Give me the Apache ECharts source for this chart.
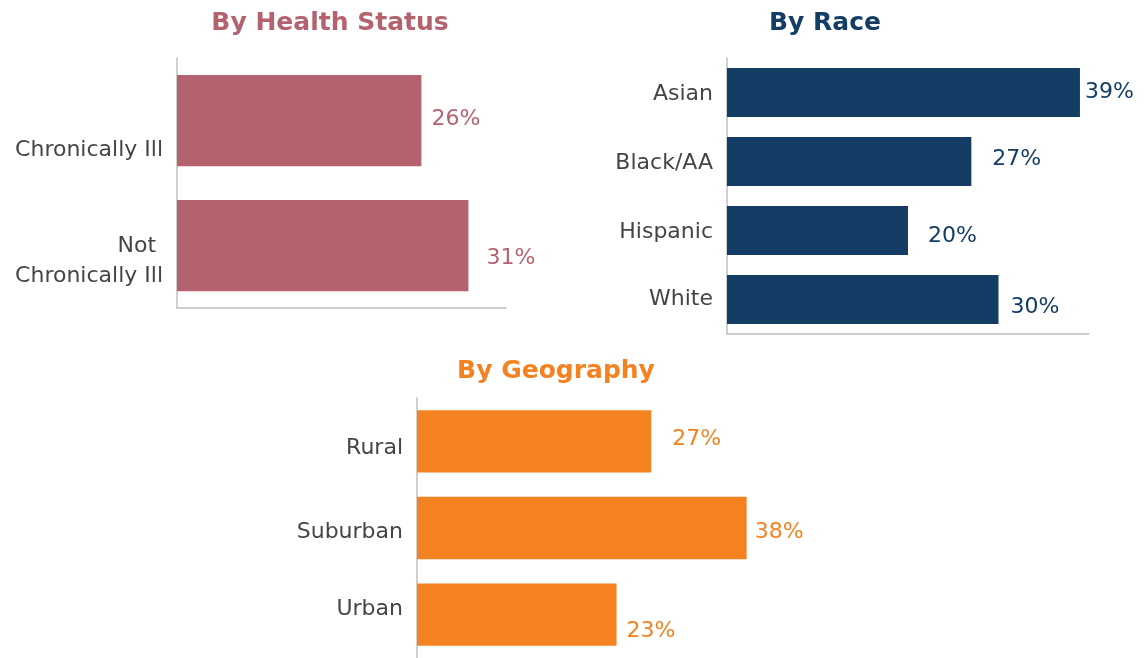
<!DOCTYPE html>
<html>
<head>
<meta charset="utf-8">
<title>By Health Status / Race / Geography</title>
<script src="https://cdn.jsdelivr.net/npm/echarts@6/dist/echarts.min.js"></script>
<style>
  html, body { margin: 0; padding: 0; background: #fff; }
  #chart { width: 1147px; height: 658px; }
</style>
</head>
<body>
<div id="chart"></div>
<script>
// 数据
const healthCats = ['Chronically Ill', 'Not \nChronically Ill'];
const healthVals = [26, 31];
const raceCats = ['Asian', 'Black/AA', 'Hispanic', 'White'];
const raceVals = [39, 27, 20, 30];
const geoCats = ['Rural', 'Suburban', 'Urban'];
const geoVals = [27, 38, 23];

// 数据标签偏移（模仿原图手动摆放的标签）
const healthOffsets = [[5, -1], [13, 13]];
const raceOffsets = [[0, 0], [16, -2], [15, 6], [7, 8]];
const geoOffsets = [[16, -2], [3, 4], [5, 17]];
// 类目标签上下挪动（正数向下，px）
const healthCatShift = [30, 16];
const raceCatShift = [2, 2, 2, 0];
const geoCatShift = [7, 4, -5];

const FONT = '"DejaVu Sans", sans-serif';
const catColor = '#454545';
const lineColor = '#bfbfbf';

const panels = [
  { title: 'By Health Status', color: '#b5626f', cats: healthCats, vals: healthVals, offsets: healthOffsets, shift: healthCatShift,
    grid: { left: 177, width: 329, top: 58, height: 250 }, max: 35, baseline: true, titleX: 325, titleY: 6, gap: '27%' },
  { title: 'By Race', color: '#143d66', cats: raceCats, vals: raceVals, offsets: raceOffsets, shift: raceCatShift,
    grid: { left: 727, width: 362, top: 58, height: 276 }, max: 40, baseline: true, titleX: 820, titleY: 6, gap: '29%' },
  { title: 'By Geography', color: '#f58220', cats: geoCats, vals: geoVals, offsets: geoOffsets, shift: geoCatShift,
    grid: { left: 417, width: 347, top: 398, height: 264 }, max: 40, baseline: false, titleX: 551, titleY: 354, gap: '28%' }
];

// 用一行空白的 rich 文本把标签往上/下推
function shiftLabel(text, d) {
  if (!d) return text;
  const spacer = '{s' + Math.abs(d * 2) + '|\u00a0}';
  return d > 0 ? spacer + '\n' + text : text + '\n' + spacer;
}
const richSpacers = {};
panels.forEach(p => p.shift.forEach(d => {
  const h = Math.abs(d * 2);
  if (h) richSpacers['s' + h] = { lineHeight: h, fontSize: 1, height: h };
}));

const chart = echarts.init(document.getElementById('chart'));

const option = {
  backgroundColor: '#fff',
  animation: false,
  title: panels.map(p => ({
    text: p.title,
    left: p.titleX,
    top: p.titleY,
    textAlign: 'center',
    textStyle: { color: p.color, fontFamily: FONT, fontSize: 25, fontWeight: 'bold' }
  })),
  grid: panels.map(p => Object.assign({ containLabel: false }, p.grid)),
  xAxis: panels.map((p, i) => ({
    type: 'value',
    gridIndex: i,
    min: 0,
    max: p.max,
    axisLine: { show: p.baseline, lineStyle: { color: lineColor, width: 1.5 } },
    axisTick: { show: false },
    axisLabel: { show: false },
    splitLine: { show: false }
  })),
  yAxis: panels.map((p, i) => ({
    type: 'category',
    gridIndex: i,
    inverse: true,
    data: p.cats,
    axisLine: { show: true, onZero: false, lineStyle: { color: lineColor, width: 1.5 } },
    axisTick: { show: false },
    axisLabel: {
      color: catColor,
      fontFamily: FONT,
      fontSize: 22,
      lineHeight: 30,
      margin: 14,
      align: 'right',
      formatter: (val, idx) => shiftLabel(val, p.shift[idx]),
      rich: richSpacers
    }
  })),
  series: panels.map((p, i) => ({
    type: 'bar',
    xAxisIndex: i,
    yAxisIndex: i,
    barCategoryGap: p.gap,
    itemStyle: { color: p.color },
    data: p.vals.map((v, j) => ({
      value: v,
      label: { offset: p.offsets[j] }
    })),
    label: {
      show: true,
      position: 'right',
      distance: 5,
      formatter: '{c}%',
      color: p.color,
      fontFamily: FONT,
      fontSize: 22
    }
  }))
};

chart.setOption(option);
window.addEventListener('resize', () => chart.resize());
</script>
</body>
</html>
